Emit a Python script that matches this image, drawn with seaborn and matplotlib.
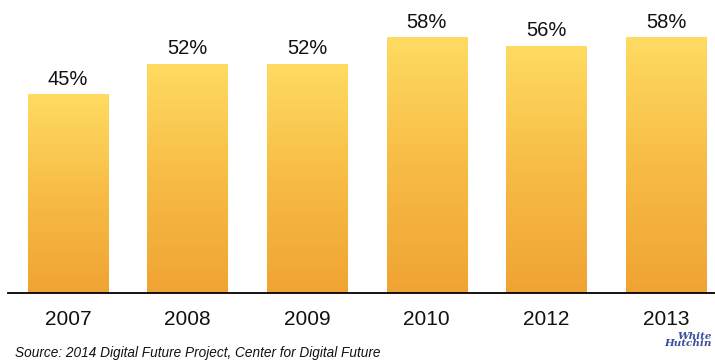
import numpy as np
import pandas as pd
import matplotlib
matplotlib.use("Agg")
import matplotlib.pyplot as plt
from matplotlib.colors import LinearSegmentedColormap
import seaborn as sns

years = ["2007", "2008", "2009", "2010", "2012", "2013"]
values = [45, 52, 52, 58, 56, 58]
labels = ["45%", "52%", "52%", "58%", "56%", "58%"]
source = "Source: 2014 Digital Future Project, Center for Digital Future"

sns.set_theme(style="white")
plt.rcParams["font.family"] = ["Liberation Sans", "DejaVu Sans"]

W, H = 715, 362
fig = plt.figure(figsize=(W / 100, H / 100), dpi=100)
ax = fig.add_axes([8 / W, 1 - 293 / H, (W - 8) / W, 293 / H])

df = pd.DataFrame({"year": years, "value": values})
sns.barplot(data=df, x="year", y="value", ax=ax, width=0.67, color="#F5B640",
            edgecolor="none", saturation=1)

cmap = LinearSegmentedColormap.from_list("g", ["#F0A333", "#F7BC45", "#FFDB62"])
grad = np.linspace(0, 1, 256).reshape(-1, 1)
for p in ax.patches:
    x0, y0 = p.get_x(), p.get_y()
    w, h = p.get_width(), p.get_height()
    im = ax.imshow(grad, cmap=cmap, origin="lower", aspect="auto",
                   extent=[x0, x0 + w, y0, y0 + h], zorder=p.get_zorder() + 0.1)
    im.set_clip_path(p)

for i, (v, lab) in enumerate(zip(values, labels)):
    ax.annotate(lab, (i, v), xytext=(0, 4), textcoords="offset points",
                ha="center", va="bottom", fontsize=14.5, color="#111111")

ax.set_xlim(-0.5, 5.41)
ax.set_ylim(0, 66.4)
ax.set_xlabel("")
ax.set_ylabel("")
ax.set_yticks([])
for s in ["top", "right", "left"]:
    ax.spines[s].set_visible(False)
ax.spines["bottom"].set_color("black")
ax.spines["bottom"].set_linewidth(1.3)
ax.tick_params(axis="x", length=0, pad=12, labelsize=15, labelcolor="#111111")
ax.patch.set_alpha(0)

fig.text(15 / W, 1 - 353 / H, source, fontsize=9.8, style="italic",
         color="#111111", va="center", ha="left")
fig.text(712 / W, 1 - 340 / H, "White\nHutchin", fontsize=7.5, style="italic",
         weight="bold", color="#3C4F9C", va="center", ha="right",
         family="DejaVu Serif", linespacing=0.85, multialignment="right")

fig.savefig("out.png", dpi=100)
